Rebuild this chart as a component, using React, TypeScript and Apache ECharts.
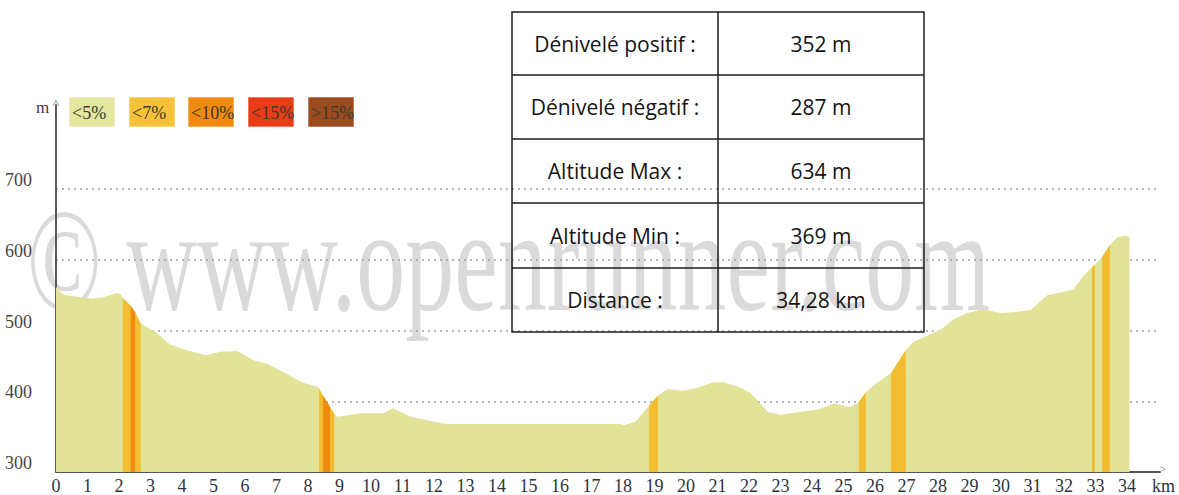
import React, { useEffect, useRef } from 'react';
import * as echarts from 'echarts';

// Elevation profile (km, metres)
const PROFILE_KM = [
  0, 0.1, 0.3, 0.7, 1.1, 1.5, 1.95, 2.05, 2.12, 2.37, 2.51, 2.69, 3.16, 3.63, 4.17, 4.75, 5.22, 5.76,
  6.27, 6.7, 7.22, 7.86, 8.3, 8.35, 8.48, 8.7, 8.83, 8.94, 9.67, 10.4, 10.7, 11.26, 11.9, 12.36, 17.9,
  18.02, 18.4, 18.83, 19.11, 19.4, 19.9, 20.36, 20.88, 21.2, 21.7, 22.05, 22.6, 23.0, 23.6, 24.17, 24.7,
  25.22, 25.49, 25.71, 26.08, 26.51, 26.98, 27.22, 27.66, 28.08, 28.5, 28.93, 29.44, 29.98, 30.4, 30.94,
  31.47, 31.9, 32.3, 32.6, 32.89, 32.98, 33.21, 33.46, 33.7, 33.95, 34.05, 34.08,
];
const PROFILE_ALT = [
  562, 556, 550, 548, 545, 547, 553, 551, 546, 535, 526, 510, 498, 480, 472, 465, 470, 471,
  458, 453, 441, 426, 421, 418, 408, 392, 383, 378, 383, 383, 390, 378, 372, 368, 368,
  366, 371, 394, 408, 417, 415, 419, 427, 427, 420, 412, 385, 381, 385, 388, 397,
  392, 399, 413, 427, 440, 472, 484, 493, 501, 516, 525, 530, 525, 526, 529,
  550, 554, 558, 576, 590, 593, 604, 621, 632, 634, 633, 631,
];

// Slope bands drawn over the profile
const BAND_FROM = [2.12, 2.37, 8.35, 8.48, 18.83, 25.49, 26.51, 32.89, 33.21];
const BAND_TO = [2.69, 2.51, 8.83, 8.7, 19.11, 25.71, 26.98, 32.98, 33.46];
const BAND_CLASS = [1, 2, 1, 2, 1, 1, 1, 1, 1];

const LEGEND_LABELS = ['<5%', '<7%', '<10%', '<15%', '>15%'];
const LEGEND_COLORS = ['#e3e79f', '#f5c23a', '#f08a10', '#e83c16', '#9b4b1f'];
const AREA_COLORS = ['#e1e399', '#f3bd32', '#ee8a12', '#e83c16', '#9b4b1f'];

const TABLE_LABELS = ['Dénivelé positif :', 'Dénivelé négatif :', 'Altitude Max :', 'Altitude Min :', 'Distance :'];
const TABLE_VALUES = ['352 m', '287 m', '634 m', '369 m', '34,28 km'];

const X_MAX = 35.05;
const Y_MIN = 300;
const Y_MAX = 819;

export default function App() {
  const ref = useRef<HTMLDivElement>(null);

  useEffect(() => {
    document.body.style.margin = '0';
    if (!ref.current) return;
    const chart = echarts.init(ref.current, undefined, { renderer: 'svg' });

    const profile = PROFILE_KM.map((k, i) => [k, PROFILE_ALT[i]]);

    const bandSeries = BAND_FROM.map((from, i) => ({
      type: 'line',
      data: profile.filter((p) => p[0] >= from - 1e-9 && p[0] <= BAND_TO[i] + 1e-9),
      symbol: 'none',
      showSymbol: false,
      lineStyle: { width: 0, opacity: 0 },
      areaStyle: { color: AREA_COLORS[BAND_CLASS[i]], opacity: 1, origin: 'start' },
      z: 3 + (BAND_CLASS[i] > 1 ? 1 : 0),
      silent: true,
    }));

    const serif = '"Liberation Serif", "Times New Roman", serif';
    const sans = '"Open Sans", "Noto Sans", sans-serif';

    const graphics: any[] = [];
    // watermark
    graphics.push({
      type: 'text',
      x: 27,
      y: 261,
      scaleY: 1.5,
      z: 0,
      silent: true,
      style: {
        text: '© www.openrunner.com',
        font: `98px ${serif}`,
        fill: '#dadada',
        align: 'left',
        verticalAlign: 'middle',
      },
    });
    // legend
    const legendX = [69, 129, 188, 248, 308];
    LEGEND_LABELS.forEach((lab, i) => {
      graphics.push({
        type: 'rect',
        shape: { x: legendX[i], y: 97, width: 46, height: 30 },
        style: { fill: LEGEND_COLORS[i], stroke: 'rgba(255,255,255,0.6)', lineWidth: 1 },
        z: 5,
        silent: true,
      });
      graphics.push({
        type: 'text',
        x: legendX[i] + 3,
        y: 113,
        z: 6,
        silent: true,
        style: {
          text: lab,
          font: `18px ${serif}`,
          fill: '#3d3a2c',
          align: 'left',
          verticalAlign: 'middle',
        },
      });
    });
    // axis decorations
    graphics.push({
      type: 'text', x: 36, y: 107, z: 6, silent: true,
      style: { text: 'm', font: `17px ${serif}`, fill: '#3a3450', align: 'left', verticalAlign: 'middle' },
    });
    graphics.push({
      type: 'text', x: 56, y: 104, z: 6, silent: true,
      style: { text: '^', font: `13px ${sans}`, fill: '#8a9ab5', align: 'center', verticalAlign: 'middle' },
    });
    graphics.push({
      type: 'text', x: 1163, y: 468, z: 6, silent: true,
      style: { text: '>', font: `11px ${sans}`, fill: '#8a9ab5', align: 'center', verticalAlign: 'middle' },
    });
    graphics.push({
      type: 'text', x: 1152, y: 486, z: 6, silent: true,
      style: { text: 'km', font: `18px ${serif}`, fill: '#2f3440', align: 'left', verticalAlign: 'middle' },
    });
    // table
    const tL = 512, tM = 718, tR = 924;
    const rowsY = [12, 75, 139, 203, 268, 332];
    graphics.push({
      type: 'rect',
      shape: { x: tL, y: rowsY[0], width: tR - tL, height: rowsY[5] - rowsY[0] },
      style: { fill: 'none', stroke: '#1e1e1e', lineWidth: 1.5 },
      z: 5, silent: true,
    });
    graphics.push({
      type: 'line',
      shape: { x1: tM, y1: rowsY[0], x2: tM, y2: rowsY[5] },
      style: { stroke: '#1e1e1e', lineWidth: 1.5 },
      z: 5, silent: true,
    });
    for (let r = 1; r < 5; r++) {
      graphics.push({
        type: 'line',
        shape: { x1: tL, y1: rowsY[r], x2: tR, y2: rowsY[r] },
        style: { stroke: '#1e1e1e', lineWidth: 1.5 },
        z: 5, silent: true,
      });
    }
    TABLE_LABELS.forEach((lab, r) => {
      const cy = (rowsY[r] + rowsY[r + 1]) / 2;
      graphics.push({
        type: 'text', x: (tL + tM) / 2, y: cy, z: 6, silent: true,
        style: { text: lab, font: `21px ${sans}`, fill: '#151515', align: 'center', verticalAlign: 'middle' },
      });
      graphics.push({
        type: 'text', x: (tM + tR) / 2, y: cy, z: 6, silent: true,
        style: { text: TABLE_VALUES[r], font: `21px ${sans}`, fill: '#151515', align: 'center', verticalAlign: 'middle' },
      });
    });

    const dot = '#a0a0a0';
    const option: any = {
      animation: false,
      backgroundColor: '#ffffff',
      grid: { left: 56, right: 19, top: 105, bottom: 23, containLabel: false },
      xAxis: {
        type: 'value',
        min: 0,
        max: X_MAX,
        interval: 1,
        axisLine: { show: true, lineStyle: { color: '#555555', width: 2 } },
        axisTick: { show: false },
        splitLine: { show: false },
        axisLabel: {
          color: '#2f3440',
          fontFamily: serif,
          fontSize: 18,
          margin: 5,
          showMaxLabel: false,
          formatter: (v: number) => (v <= 34 ? String(v) : ''),
        },
      },
      yAxis: {
        type: 'value',
        min: Y_MIN,
        max: Y_MAX,
        interval: 100,
        axisLine: { show: true, lineStyle: { color: '#5a5a5a', width: 2 } },
        axisTick: { show: false },
        splitLine: {
          show: true,
          lineStyle: {
            color: ['rgba(0,0,0,0)', dot, dot, dot, dot, 'rgba(0,0,0,0)', 'rgba(0,0,0,0)'],
            type: [2, 4],
            width: 1.5,
          },
        },
        axisLabel: {
          color: '#4a4440',
          fontFamily: serif,
          fontSize: 18,
          margin: 24,
          verticalAlign: 'bottom',
          showMaxLabel: false,
          formatter: (v: number) => (v <= 700 ? String(v) : ''),
        },
      },
      graphic: { elements: graphics },
      series: [
        {
          type: 'line',
          data: profile,
          symbol: 'none',
          showSymbol: false,
          lineStyle: { width: 0, opacity: 0 },
          areaStyle: {
            color: AREA_COLORS[0],
            opacity: 1,
            origin: 'start',
            decal: {
              symbol: 'rect',
              symbolSize: 1,
              dashArrayX: [1, 5],
              dashArrayY: [4, 0],
              color: 'rgba(170,170,80,0.18)',
              rotation: 0,
            },
          },
          z: 2,
          silent: true,
        },
        ...bandSeries,
      ],
    };

    chart.setOption(option);
    return () => chart.dispose();
  }, []);

  return <div ref={ref} style={{ width: 1179, height: 495 }} />;
}
